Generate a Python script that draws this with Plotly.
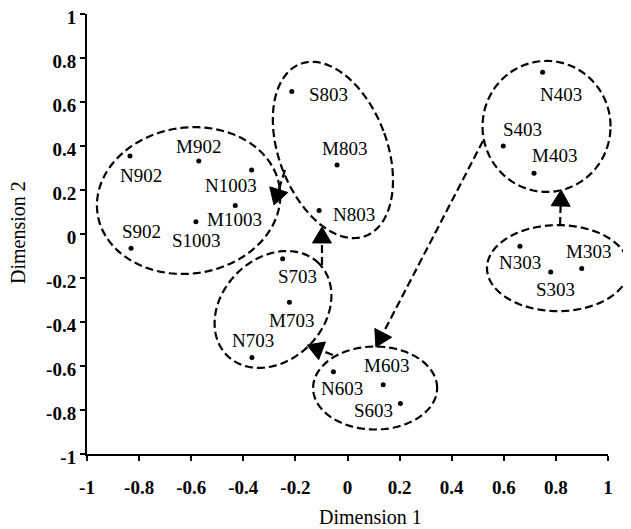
import numpy as np
import plotly.graph_objects as go

# ---------------- data ----------------
labels = ["N902", "M902", "N1003", "M1003", "S1003", "S902",
          "S803", "M803", "N803",
          "N403", "S403", "M403",
          "N303", "M303", "S303",
          "S703", "M703", "N703",
          "N603", "M603", "S603"]
dim1 = [-0.835, -0.571, -0.368, -0.431, -0.582, -0.831,
        -0.214, -0.040, -0.109,
        0.749, 0.598, 0.716,
        0.662, 0.899, 0.780,
        -0.249, -0.223, -0.367,
        -0.054, 0.137, 0.203]
dim2 = [0.355, 0.332, 0.291, 0.130, 0.056, -0.065,
        0.648, 0.314, 0.107,
        0.735, 0.400, 0.276,
        -0.056, -0.157, -0.173,
        -0.113, -0.310, -0.561,
        -0.626, -0.685, -0.771]

tick_vals = [-1, -0.8, -0.6, -0.4, -0.2, 0, 0.2, 0.4, 0.6, 0.8, 1]
tick_text = ["-1", "-0.8", "-0.6", "-0.4", "-0.2", "0", "0.2", "0.4", "0.6", "0.8", "1"]

# group ellipses: centre in data units
ell_cx = [-0.610, -0.056, -0.286, 0.106, 0.764, 0.808]
ell_cy = [0.152, 0.382, -0.343, -0.700, 0.489, -0.155]

# arrows: from -> to, data units
arr_x0 = [0.816, 0.520, -0.056, -0.098, -0.240]
arr_y0 = [0.041, 0.423, -0.550, -0.141, 0.291]
arr_x1 = [0.820, 0.109, -0.155, -0.098, -0.282]
arr_y1 = [0.200, -0.514, -0.505, 0.032, 0.132]

# ---------------- style / layout constants ----------------
# the page body has an 8px margin, so the figure is drawn 8px in from the corner
OFF = 8
W, H = 631 - OFF, 529 - OFF
ML, MT = 87 - OFF, 14 - OFF
PW, PH = 521, 440
MR, MB = W - ML - PW, H - MT - PH
XR, YR = (-1, 1), (-1, 1)

# ellipse shape (pixels): semi-axes and rotation (deg, CCW)
ell_rx = [92, 54, 65, 62, 64, 71]
ell_ry = [73, 92, 51, 41.5, 65.5, 43]
ell_rot = [8, 20.7, 45, 0, 0, 0]

# label offsets in pixels (dx right, dy down)
lab_dx = [11, 0, -21, -1, 1, 10, 37, 7, 35, 18, 19, 20, 0, 7, 5, 15, 2, 1, 9, 3, -27]
lab_dy = [20, -14, 16, 14, 19, -17, 3, -16, 4, 22, -17, -18, 16, -17, 17, 18, 18, -17, 17, -19, 7]

FONT = "Liberation Serif, Times New Roman, serif"
DASH = "8px,4px"
LW = 2.2


def to_paper(x, y):
    return (x - XR[0]) / (XR[1] - XR[0]), (y - YR[0]) / (YR[1] - YR[0])


shapes = []
# ellipses
for cx, cy, rx, ry, rot in zip(ell_cx, ell_cy, ell_rx, ell_ry, ell_rot):
    px0, py0 = to_paper(cx, cy)
    th = np.radians(rot)
    t = np.linspace(0, 2 * np.pi, 121)
    u = rx * np.cos(t)
    v = ry * np.sin(t)
    U = u * np.cos(th) - v * np.sin(th)
    V = u * np.sin(th) + v * np.cos(th)
    xs = px0 + U / PW
    ys = py0 + V / PH
    path = "M " + " L ".join(f"{a:.5f},{b:.5f}" for a, b in zip(xs, ys)) + " Z"
    shapes.append(dict(type="path", xref="paper", yref="paper", path=path,
                       line=dict(color="black", width=LW, dash=DASH)))

# arrows
HEAD_L, HEAD_W = 16, 9.5
for x0, y0, x1, y1 in zip(arr_x0, arr_y0, arr_x1, arr_y1):
    a0 = to_paper(x0, y0)
    a1 = to_paper(x1, y1)
    sx0, sy0 = a0[0] * PW, a0[1] * PH
    sx1, sy1 = a1[0] * PW, a1[1] * PH
    dx, dy = sx1 - sx0, sy1 - sy0
    L = np.hypot(dx, dy)
    ux, uy = dx / L, dy / L
    bx, by = sx1 - ux * HEAD_L, sy1 - uy * HEAD_L
    shapes.append(dict(type="line", xref="paper", yref="paper",
                       x0=sx0 / PW, y0=sy0 / PH, x1=(bx + ux * 2) / PW, y1=(by + uy * 2) / PH,
                       line=dict(color="black", width=LW, dash=DASH)))
    px_, py_ = -uy, ux
    p1 = (bx + px_ * HEAD_W, by + py_ * HEAD_W)
    p2 = (bx - px_ * HEAD_W, by - py_ * HEAD_W)
    path = (f"M {sx1 / PW:.5f},{sy1 / PH:.5f} L {p1[0] / PW:.5f},{p1[1] / PH:.5f} "
            f"L {p2[0] / PW:.5f},{p2[1] / PH:.5f} Z")
    shapes.append(dict(type="path", xref="paper", yref="paper", path=path,
                       fillcolor="black", line=dict(color="black", width=1)))

fig = go.Figure()
fig.add_trace(go.Scatter(x=dim1, y=dim2, mode="markers",
                         marker=dict(color="black", size=5),
                         hoverinfo="text", text=labels, showlegend=False))

annotations = []
for lab, x, y, dx, dy in zip(labels, dim1, dim2, lab_dx, lab_dy):
    annotations.append(dict(x=x, y=y, xref="x", yref="y", text=lab, showarrow=False,
                            xshift=dx, yshift=-dy, xanchor="center", yanchor="middle",
                            font=dict(family=FONT, size=19, color="black")))

# axis titles placed by page pixel position
annotations.append(dict(text="Dimension 1", xref="paper", yref="paper",
                        x=(370 - 87) / PW, y=-(517 - 454) / PH,
                        xanchor="center", yanchor="middle", showarrow=False,
                        font=dict(family=FONT, size=20, color="black")))
annotations.append(dict(text="Dimension 2", xref="paper", yref="paper",
                        x=(18 - 87) / PW, y=1 - (233 - 14) / PH,
                        xanchor="center", yanchor="middle", showarrow=False, textangle=-90,
                        font=dict(family=FONT, size=20, color="black")))

axis_common = dict(showgrid=False, zeroline=False, showline=True, linecolor="black",
                   linewidth=2, ticks="outside", ticklen=5, tickwidth=2, tickcolor="black",
                   tickvals=tick_vals, ticktext=tick_text, automargin=False,
                   ticklabeloverflow="allow",
                   tickfont=dict(family=FONT, size=19, color="black", weight="bold"))

fig.update_layout(
    width=W, height=H,
    margin=dict(l=ML, r=MR, t=MT, b=MB, pad=0, autoexpand=False),
    plot_bgcolor="white", paper_bgcolor="white",
    xaxis=dict(range=list(XR), ticklabelstandoff=10, **axis_common),
    yaxis=dict(range=list(YR), ticklabelstandoff=0, ticklabelshift=3, **axis_common),
    shapes=shapes, annotations=annotations,
)

fig.write_html("out.html")
